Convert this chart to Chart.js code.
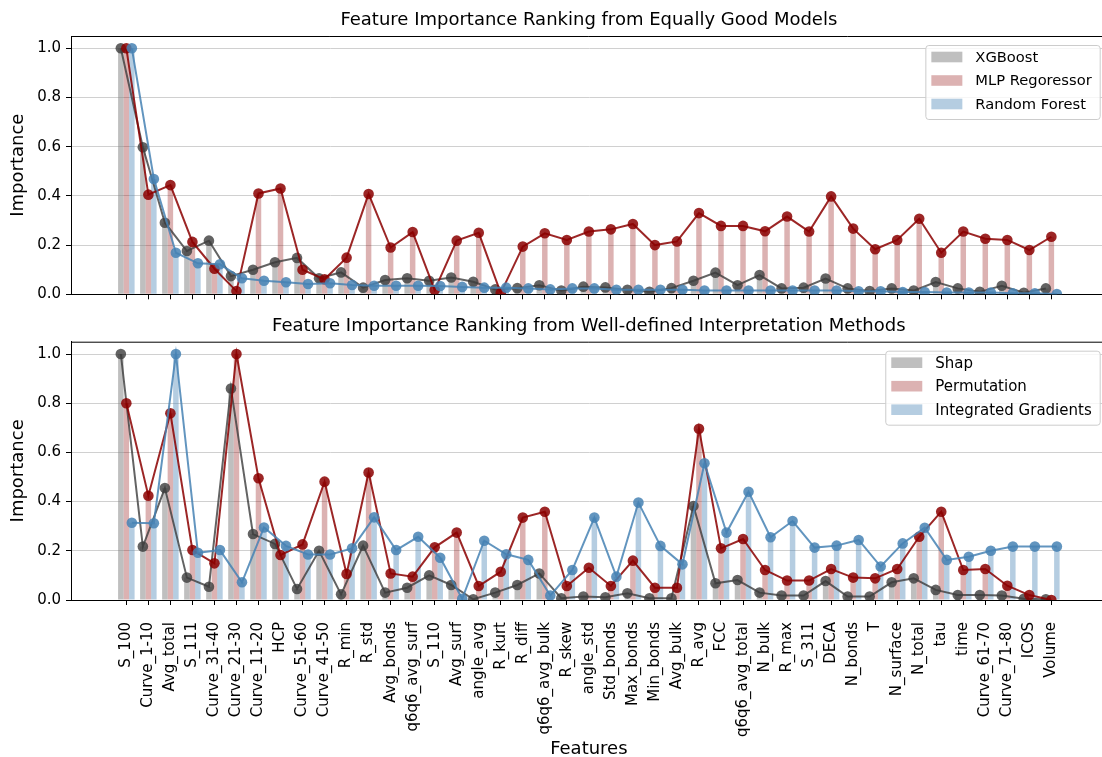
<!DOCTYPE html>
<html>
<head>
<meta charset="utf-8">
<script src="https://cdn.jsdelivr.net/npm/chart.js@4.4.0/dist/chart.umd.min.js"></script>
<style>
html, body { margin: 0; padding: 0; background: #fff; overflow: hidden; }
#wrap { position: relative; width: 1102px; height: 757px; overflow: hidden; }
canvas { position: absolute; left: 0; }
#topChart { top: 0; }
#bottomChart { top: 310px; }
</style>
</head>
<body>
<div id="wrap">
<canvas id="topChart" width="1112" height="310"></canvas>
<canvas id="bottomChart" width="1112" height="447"></canvas>
</div>
<script>
"use strict";
var features = ["S_100", "Curve_1-10", "Avg_total", "S_111", "Curve_31-40", "Curve_21-30", "Curve_11-20", "HCP",
    "Curve_51-60", "Curve_41-50", "R_min", "R_std", "Avg_bonds", "q6q6_avg_surf", "S_110", "Avg_surf", "angle_avg",
    "R_kurt", "R_diff", "q6q6_avg_bulk", "R_skew", "angle_std", "Std_bonds", "Max_bonds", "Min_bonds", "Avg_bulk",
    "R_avg", "FCC", "q6q6_avg_total", "N_bulk", "R_max", "S_311", "DECA", "N_bonds", "T", "N_surface", "N_total",
    "tau", "time", "Curve_61-70", "Curve_71-80", "ICOS", "Volume"];

// top panel: models
var modelNames = ["XGBoost", "MLP Regoressor", "Random Forest"];
var xgboost = [1.0, 0.598, 0.291, 0.176, 0.218, 0.074, 0.100, 0.130, 0.148, 0.065,
    0.089, 0.027, 0.058, 0.065, 0.055, 0.068, 0.051, 0.020, 0.025, 0.037,
    0.015, 0.031, 0.028, 0.018, 0.010, 0.025, 0.055, 0.088, 0.037, 0.078,
    0.024, 0.027, 0.064, 0.024, 0.013, 0.024, 0.015, 0.050, 0.024, 0.010,
    0.035, 0.006, 0.024];
var mlp = [1.0, 0.405, 0.444, 0.213, 0.104, 0.013, 0.410, 0.430, 0.100, 0.061,
    0.149, 0.408, 0.190, 0.253, 0.017, 0.218, 0.250, 0.005, 0.194, 0.248,
    0.221, 0.255, 0.264, 0.286, 0.200, 0.215, 0.330, 0.278, 0.278, 0.256,
    0.316, 0.255, 0.398, 0.267, 0.183, 0.221, 0.307, 0.169, 0.255, 0.226,
    0.221, 0.180, 0.234];
var randomForest = [1.0, 0.469, 0.169, 0.126, 0.122, 0.065, 0.055, 0.049, 0.042, 0.045,
    0.038, 0.035, 0.035, 0.035, 0.034, 0.030, 0.027, 0.027, 0.024, 0.020,
    0.024, 0.024, 0.018, 0.018, 0.018, 0.018, 0.015, 0.015, 0.015, 0.015,
    0.015, 0.015, 0.015, 0.012, 0.012, 0.009, 0.009, 0.007, 0.007, 0.007,
    0.004, 0.004, 0.001];

// bottom panel: interpretation methods
var methodNames = ["Shap", "Permutation", "Integrated Gradients"];
var shap = [1.0, 0.217, 0.455, 0.091, 0.054, 0.860, 0.268, 0.228, 0.045, 0.200,
    0.023, 0.221, 0.030, 0.050, 0.100, 0.061, 0.003, 0.030, 0.061, 0.108,
    0.007, 0.014, 0.011, 0.027, 0.007, 0.007, 0.382, 0.068, 0.081, 0.030,
    0.018, 0.018, 0.077, 0.014, 0.014, 0.072, 0.088, 0.041, 0.020, 0.020,
    0.018, 0.005, 0.003];
var permutation = [0.800, 0.424, 0.759, 0.203, 0.149, 1.0, 0.495, 0.183, 0.226, 0.481,
    0.106, 0.518, 0.108, 0.095, 0.214, 0.274, 0.057, 0.115, 0.335, 0.359,
    0.057, 0.131, 0.057, 0.160, 0.050, 0.050, 0.696, 0.210, 0.248, 0.122,
    0.079, 0.079, 0.126, 0.091, 0.088, 0.126, 0.257, 0.359, 0.122, 0.126,
    0.058, 0.020, 0.0];
var integratedGradients = [0.314, 0.312, 1.0, 0.192, 0.203, 0.072, 0.295, 0.220, 0.185, 0.185,
    0.210, 0.336, 0.203, 0.257, 0.172, 0.005, 0.241, 0.186, 0.163, 0.018,
    0.122, 0.335, 0.095, 0.396, 0.220, 0.145, 0.556, 0.274, 0.440, 0.255,
    0.321, 0.213, 0.221, 0.244, 0.136, 0.230, 0.294, 0.163, 0.176, 0.200,
    0.217, 0.217, 0.217];

var yTicks = [0, 0.2, 0.4, 0.6, 0.8, 1.0];

var barColors = ["rgba(128,128,128,0.5)", "rgba(139,0,0,0.3)", "rgba(70,130,180,0.4)"];
var lineColors = ["rgba(60,60,60,0.8)", "rgba(139,0,0,0.85)", "rgba(70,130,180,0.85)"];
var barShift = [-0.25, 0, 0.25];
var FONT = "DejaVu Sans";

Chart.defaults.font.family = FONT;
Chart.defaults.color = "#000";

// legend box inside the axes (top right) + top spine
var boxLegend = {
    id: "boxLegend",
    afterDraw: function (chart, args, opts) {
        var ctx = chart.ctx, area = chart.chartArea;
        ctx.save();
        ctx.strokeStyle = "#000";
        ctx.lineWidth = 1;
        ctx.beginPath();
        ctx.moveTo(area.left, area.top + 0.5);
        ctx.lineTo(area.right, area.top + 0.5);
        ctx.stroke();

        var items = chart.data.datasets.filter(function (d) { return d.type === "bar"; });
        ctx.font = "normal " + opts.fontSize + "px " + FONT;
        var textW = Math.max.apply(null, items.map(function (d) { return ctx.measureText(d.label).width; }));
        var w = 6 + 31 + 13 + textW + 8, h = 74;
        var x = area.right - 7 - w, y = area.top + 9;
        ctx.beginPath();
        ctx.roundRect(x + 0.5, y + 0.5, w, h, 3);
        ctx.fillStyle = "rgba(255,255,255,0.8)";
        ctx.fill();
        ctx.strokeStyle = "#cccccc";
        ctx.stroke();
        items.forEach(function (d, k) {
            var cy = y + 12 + k * 23.5;
            ctx.fillStyle = d.backgroundColor;
            ctx.fillRect(x + 6, cy - 5.3, 31, 10.6);
            ctx.fillStyle = "#000";
            ctx.textBaseline = "middle";
            ctx.textAlign = "left";
            ctx.fillText(d.label, x + 50, cy + 1);
        });
        ctx.restore();
    }
};

function makeChart(id, title, names, series, opts) {
    var datasets = [];
    series.forEach(function (vals, k) {
        datasets.push({
            type: "bar",
            label: names[k],
            order: 3,
            data: vals.map(function (v, i) { return { x: i, y: v }; }),
            backgroundColor: barColors[k],
            borderWidth: 0,
            categoryPercentage: 0.75,
            barPercentage: 1.0
        });
    });
    series.forEach(function (vals, k) {
        datasets.push({
            type: "line",
            label: names[k] + " line",
            order: 2 - k,
            data: vals.map(function (v, i) { return { x: i + barShift[k], y: v }; }),
            borderColor: lineColors[k],
            backgroundColor: lineColors[k],
            borderWidth: 2,
            pointRadius: 5.3,
            pointHoverRadius: 5.3,
            pointBorderWidth: 0,
            tension: 0
        });
    });

    return new Chart(document.getElementById(id), {
        type: "bar",
        data: { datasets: datasets },
        options: {
            responsive: false,
            animation: false,
            devicePixelRatio: 1,
            layout: { padding: 0 },
            plugins: {
                legend: { display: false },
                tooltip: { enabled: false },
                title: {
                    display: true,
                    text: title,
                    fullSize: false,
                    color: "#000",
                    font: { size: 18, weight: "normal" },
                    padding: { top: opts.titleTop, bottom: opts.titleBottom }
                },
                boxLegend: { fontSize: opts.legendSize }
            },
            scales: {
                x: {
                    type: "linear",
                    min: -2.5125,
                    max: 44.5125,
                    offset: false,
                    afterBuildTicks: function (s) {
                        s.ticks = features.map(function (f, i) { return { value: i }; });
                    },
                    ticks: {
                        display: opts.showLabels,
                        autoSkip: false,
                        minRotation: 90,
                        maxRotation: 90,
                        padding: 17,
                        font: { size: 15 },
                        callback: function (v) { return features[v]; }
                    },
                    grid: { display: true, offset: false, drawOnChartArea: false, tickLength: 5, tickColor: "#000" },
                    border: { display: true, color: "#000", width: 1 },
                    title: {
                        display: opts.showLabels,
                        text: "Features",
                        font: { size: 18, lineHeight: 0.9 },
                        padding: { top: 0, bottom: 0 }
                    },
                    afterFit: function (s) { s.height = opts.xHeight; }
                },
                y: {
                    min: 0,
                    max: 1.05,
                    afterBuildTicks: function (s) {
                        s.ticks = yTicks.map(function (v) { return { value: v }; });
                    },
                    ticks: {
                        padding: 5,
                        font: { size: 15 },
                        callback: function (v) { return v.toFixed(1); }
                    },
                    grid: { color: "#d0d0d0", lineWidth: 1, tickColor: "#000", tickLength: 5 },
                    border: { display: true, color: "#000", width: 1 },
                    title: {
                        display: true,
                        text: "Importance",
                        font: { size: 18 },
                        padding: { top: 7.5, bottom: 0 }
                    },
                    afterFit: function (s) { s.width = 71; }
                }
            }
        },
        plugins: [boxLegend]
    });
}

makeChart("topChart", "Feature Importance Ranking from Equally Good Models", modelNames,
    [xgboost, mlp, randomForest],
    { showLabels: false, xHeight: 15.7, legendSize: 14.7, titleTop: 10, titleBottom: 4.4 });
makeChart("bottomChart", "Feature Importance Ranking from Well-defined Interpretation Methods", methodNames,
    [shap, permutation, integratedGradients],
    { showLabels: true, xHeight: 157, legendSize: 15, titleTop: 5.2, titleBottom: 4.9 });
</script>
</body>
</html>
